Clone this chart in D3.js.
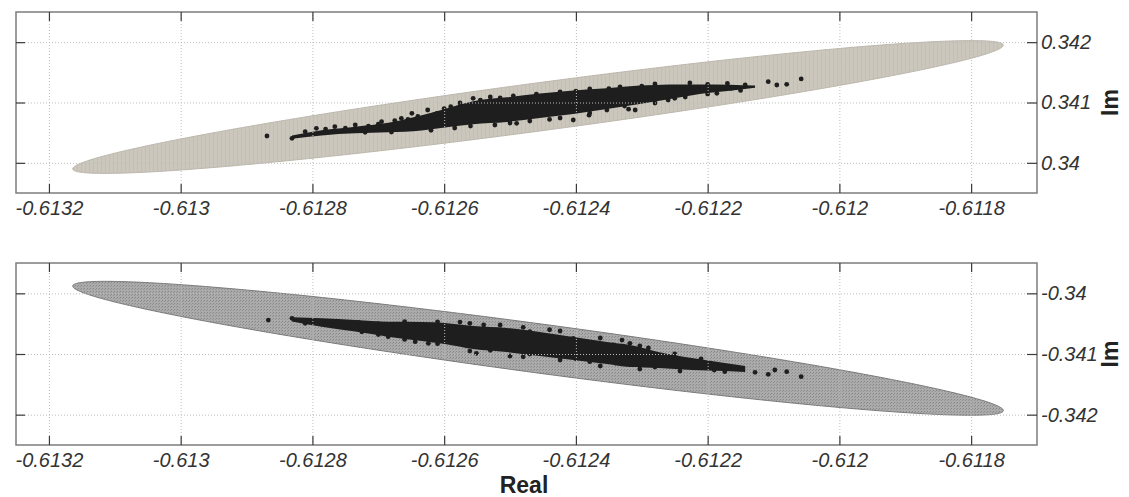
<!DOCTYPE html>
<html>
<head>
<meta charset="utf-8">
<script src="https://cdn.jsdelivr.net/npm/d3@7"></script>
<style>
  html, body { margin: 0; padding: 0; background: #fff; }
  svg { display: block; font-family: "Liberation Sans", Arial, sans-serif; }
  .ticklabel { font-style: italic; font-size: 20px; fill: #333; font-family: "Liberation Sans", Arial, sans-serif; }
</style>
</head>
<body>
<svg id="chart" width="1129" height="497"></svg>
<script>
// ---- axis ticks ----
const xTicks = [-0.6132, -0.613, -0.6128, -0.6126, -0.6124, -0.6122, -0.612, -0.6118];
const xTickLabels = ["-0.6132", "-0.613", "-0.6128", "-0.6126", "-0.6124", "-0.6122", "-0.612", "-0.6118"];
const topYTicks = [0.34, 0.341, 0.342];
const topYTickLabels = ["0.34", "0.341", "0.342"];
const botYTicks = [-0.342, -0.341, -0.34];
const botYTickLabels = ["-0.342", "-0.341", "-0.34"];

// ---- uncertainty ellipses: centre, end of major semi-axis, end of minor semi-axis ----
const topEllipseCenter = [-0.6124575, 0.3409254];
const topEllipseVertex = [-0.6117511, 0.341953];
const topEllipseCoVertex = [-0.6124624, 0.3413199];
const botEllipseCenter = [-0.6124575, -0.340906];
const botEllipseVertex = [-0.6117511, -0.3419346];
const botEllipseCoVertex = [-0.6124525, -0.3405055];

// ---- dense core of the sample cloud: [real, upper im, lower im] ----
const topCore = [
  [-0.612831, 0.340455, 0.340400],
  [-0.612786, 0.340540, 0.340455],
  [-0.612735, 0.340600, 0.340490],
  [-0.612685, 0.340665, 0.340505],
  [-0.612634, 0.340790, 0.340535],
  [-0.612599, 0.340892, 0.340585],
  [-0.612556, 0.341020, 0.340640],
  [-0.612505, 0.341085, 0.340677],
  [-0.612455, 0.341150, 0.340743],
  [-0.612404, 0.341200, 0.340809],
  [-0.612353, 0.341235, 0.340892],
  [-0.612303, 0.341280, 0.340975],
  [-0.612257, 0.341300, 0.341058],
  [-0.612212, 0.341300, 0.341141],
  [-0.612166, 0.341295, 0.341195],
  [-0.612128, 0.341280, 0.341245]
];
const botCore = [
  [-0.612831, -0.340395, -0.340465],
  [-0.612786, -0.340410, -0.340550],
  [-0.612735, -0.340440, -0.340630],
  [-0.612685, -0.340470, -0.340715],
  [-0.612634, -0.340473, -0.340786],
  [-0.612599, -0.340489, -0.340835],
  [-0.612556, -0.340539, -0.340918],
  [-0.612505, -0.340571, -0.340967],
  [-0.612455, -0.340637, -0.341033],
  [-0.612404, -0.340720, -0.341099],
  [-0.612353, -0.340802, -0.341165],
  [-0.612318, -0.340852, -0.341214],
  [-0.612275, -0.340967, -0.341231],
  [-0.612224, -0.341066, -0.341264],
  [-0.612174, -0.341148, -0.341280],
  [-0.612143, -0.341198, -0.341297]
];

// ---- individual samples around the core and in the tails: [real, im] ----
const topSamples = [
  [-0.612869, 0.340445], [-0.612831, 0.340407], [-0.612811, 0.340516], [-0.612794, 0.340572],
  [-0.612766, 0.340599], [-0.612735, 0.340627], [-0.612695, 0.340682], [-0.612665, 0.340738],
  [-0.612649, 0.340821], [-0.612625, 0.340876], [-0.612611, 0.340821], [-0.612556, 0.341070],
  [-0.612490, 0.340655], [-0.612561, 0.340848], [-0.612470, 0.341070], [-0.612439, 0.341096],
  [-0.612404, 0.340710], [-0.612353, 0.340876], [-0.612310, 0.340876], [-0.612250, 0.341070],
  [-0.612186, 0.341152], [-0.612164, 0.341235], [-0.612143, 0.341290], [-0.612108, 0.341345],
  [-0.612095, 0.341290], [-0.612080, 0.341302], [-0.612058, 0.341390],
  [-0.612576, 0.340992], [-0.612530, 0.341091], [-0.612424, 0.341174], [-0.612379, 0.341224],
  [-0.612333, 0.341257], [-0.612280, 0.341307], [-0.612227, 0.341323],
  [-0.612584, 0.340577], [-0.612523, 0.340627], [-0.612470, 0.340693], [-0.612424, 0.340743],
  [-0.612379, 0.340826], [-0.612326, 0.340942], [-0.612280, 0.340992], [-0.612234, 0.341091],
  [-0.612780, 0.340560], [-0.612750, 0.340575], [-0.612715, 0.340610], [-0.612700, 0.340640],
  [-0.612675, 0.340700], [-0.612655, 0.340720], [-0.612640, 0.340770], [-0.612615, 0.340800],
  [-0.612600, 0.340900], [-0.612590, 0.340930], [-0.612545, 0.341040], [-0.612515, 0.341075],
  [-0.612495, 0.341110], [-0.612460, 0.341140], [-0.612400, 0.341190], [-0.612350, 0.341230],
  [-0.612300, 0.341270], [-0.612200, 0.341300], [-0.612170, 0.341315],
  [-0.612720, 0.340505], [-0.612680, 0.340510], [-0.612620, 0.340540], [-0.612560, 0.340610],
  [-0.612500, 0.340660], [-0.612440, 0.340720], [-0.612380, 0.340790], [-0.612320, 0.340890],
  [-0.612260, 0.341040], [-0.612200, 0.341140], [-0.612150, 0.341200]
];
const botSamples = [
  [-0.612867, -0.340440], [-0.612831, -0.340412], [-0.612811, -0.340494], [-0.612786, -0.340506],
  [-0.612773, -0.340468], [-0.612756, -0.340522], [-0.612725, -0.340633], [-0.612685, -0.340715],
  [-0.612644, -0.340797], [-0.612624, -0.340824], [-0.612591, -0.340741], [-0.612551, -0.340989],
  [-0.612561, -0.340494], [-0.612470, -0.340633], [-0.612480, -0.341045], [-0.612404, -0.340741],
  [-0.612379, -0.341127], [-0.612343, -0.340852], [-0.612318, -0.340824], [-0.612275, -0.341017],
  [-0.612250, -0.341071], [-0.612224, -0.341181], [-0.612199, -0.341153], [-0.612174, -0.341292],
  [-0.612154, -0.341236], [-0.612128, -0.341302], [-0.612108, -0.341335], [-0.612098, -0.341264],
  [-0.612080, -0.341292], [-0.612058, -0.341374],
  [-0.612576, -0.340473], [-0.612515, -0.340522], [-0.612424, -0.340621], [-0.612363, -0.340736],
  [-0.612303, -0.340868], [-0.612561, -0.340951], [-0.612500, -0.341033], [-0.612424, -0.341099],
  [-0.612363, -0.341198], [-0.612303, -0.341247], [-0.612242, -0.341280],
  [-0.612760, -0.340470], [-0.612730, -0.340480], [-0.612700, -0.340500], [-0.612660, -0.340465],
  [-0.612610, -0.340470], [-0.612540, -0.340520], [-0.612480, -0.340560], [-0.612440, -0.340600],
  [-0.612330, -0.340770], [-0.612290, -0.340900], [-0.612250, -0.341000], [-0.612210, -0.341080],
  [-0.612700, -0.340680], [-0.612660, -0.340760], [-0.612610, -0.340830], [-0.612530, -0.340940],
  [-0.612470, -0.341000], [-0.612400, -0.341080], [-0.612340, -0.341150], [-0.612280, -0.341215],
  [-0.612190, -0.341265]
];

const svg = d3.select("#chart");
const left = 16, right = 1037;
const x = d3.scaleLinear().domain([-0.61325, -0.6117]).range([left, right]);

// stipple used inside the lower ellipse, faint streaks inside the upper one
const defs = svg.append("defs");
const pat = defs.append("pattern").attr("id", "stipple")
  .attr("width", 3).attr("height", 3).attr("patternUnits", "userSpaceOnUse");
pat.append("rect").attr("width", 3).attr("height", 3).attr("fill", "#ababab");
pat.append("rect").attr("x", 0).attr("y", 0).attr("width", 1).attr("height", 1).attr("fill", "#878787");
pat.append("rect").attr("x", 2).attr("y", 1).attr("width", 1).attr("height", 1).attr("fill", "#939393");

const patTop = defs.append("pattern").attr("id", "streak")
  .attr("width", 4).attr("height", 6).attr("patternUnits", "userSpaceOnUse");
patTop.append("rect").attr("width", 4).attr("height", 6).attr("fill", "#cbc7bc");
patTop.append("rect").attr("x", 1).attr("width", 1).attr("height", 6).attr("fill", "#c3bfb4");

function drawPanel(cfg) {
  const y = d3.scaleLinear().domain(cfg.yDomain).range([cfg.bottom, cfg.top]);
  const g = svg.append("g");
  const h = cfg.bottom - cfg.top;

  // ellipse outline from its conjugate semi-axes
  const c = cfg.center, a = cfg.vertex, b = cfg.coVertex;
  const ring = d3.range(0, 360, 1).map(deg => {
    const t = deg * Math.PI / 180;
    return [
      c[0] + Math.cos(t) * (a[0] - c[0]) + Math.sin(t) * (b[0] - c[0]),
      c[1] + Math.cos(t) * (a[1] - c[1]) + Math.sin(t) * (b[1] - c[1])
    ];
  });
  g.append("path")
    .datum(ring)
    .attr("d", d3.line().x(d => x(d[0])).y(d => y(d[1])).curve(d3.curveLinearClosed))
    .attr("fill", cfg.fill)
    .attr("stroke", cfg.edge)
    .attr("stroke-width", 1);

  // dense core of the samples
  g.append("path")
    .datum(cfg.core)
    .attr("d", d3.area().x(d => x(d[0])).y0(d => y(d[1])).y1(d => y(d[2])).curve(d3.curveMonotoneX))
    .attr("fill", "#1e1e1e");

  g.selectAll("circle.s").data(cfg.samples).join("circle")
    .attr("class", "s")
    .attr("cx", d => x(d[0])).attr("cy", d => y(d[1]))
    .attr("r", 2.4).attr("fill", "#1e1e1e");

  // dotted grid
  g.append("g")
    .attr("transform", `translate(0,${cfg.bottom})`)
    .call(d3.axisBottom(x).tickValues(xTicks).tickSize(-h).tickFormat(""))
    .call(s => s.select(".domain").remove())
    .call(s => s.selectAll("line").attr("stroke", "#bdbdbd").attr("stroke-dasharray", "1,2").attr("stroke-width", 1));
  g.append("g")
    .attr("transform", `translate(${left},0)`)
    .call(d3.axisLeft(y).tickValues(cfg.yTicks).tickSize(-(right - left)).tickFormat(""))
    .call(s => s.select(".domain").remove())
    .call(s => s.selectAll("line").attr("stroke", "#bdbdbd").attr("stroke-dasharray", "1,2").attr("stroke-width", 1));

  // box
  g.append("rect")
    .attr("x", left).attr("y", cfg.top)
    .attr("width", right - left).attr("height", h)
    .attr("fill", "none").attr("stroke", "#7c7c7c").attr("stroke-width", 1.5);

  // inward ticks on all four sides, labels bottom and right
  const xb = g.append("g")
    .attr("transform", `translate(0,${cfg.bottom})`)
    .call(d3.axisBottom(x).tickValues(xTicks).tickSizeInner(-9).tickSizeOuter(0).tickPadding(8)
      .tickFormat((d, i) => xTickLabels[i]));
  xb.attr("font-family", null).attr("font-size", null);
  xb.select(".domain").remove();
  xb.selectAll("line").attr("stroke", "#3a3a3a").attr("stroke-width", 1.2);
  xb.selectAll("text").attr("class", "ticklabel").attr("fill", null);

  const xt = g.append("g")
    .attr("transform", `translate(0,${cfg.top})`)
    .call(d3.axisTop(x).tickValues(xTicks).tickSizeInner(-9).tickSizeOuter(0).tickFormat(""));
  xt.select(".domain").remove();
  xt.selectAll("line").attr("stroke", "#3a3a3a").attr("stroke-width", 1.2);

  const yl = g.append("g")
    .attr("transform", `translate(${left},0)`)
    .call(d3.axisLeft(y).tickValues(cfg.yTicks).tickSizeInner(-9).tickSizeOuter(0).tickFormat(""));
  yl.select(".domain").remove();
  yl.selectAll("line").attr("stroke", "#3a3a3a").attr("stroke-width", 1.2);

  const yr = g.append("g")
    .attr("transform", `translate(${right},0)`)
    .call(d3.axisRight(y).tickValues(cfg.yTicks).tickSizeInner(-10).tickSizeOuter(0).tickPadding(4)
      .tickFormat((d, i) => cfg.yTickLabels[i]));
  yr.attr("font-family", null).attr("font-size", null);
  yr.select(".domain").remove();
  yr.selectAll("line").attr("stroke", "#3a3a3a").attr("stroke-width", 1.2);
  yr.selectAll("text").attr("class", "ticklabel").attr("fill", null);

  // Im label
  const midY = y(cfg.yTicks[1]);
  g.append("text")
    .attr("transform", `translate(1118,${midY}) rotate(-90)`)
    .attr("text-anchor", "middle")
    .attr("font-size", 23).attr("font-weight", "bold").attr("fill", "#222")
    .text("Im");
}

drawPanel({
  top: 12, bottom: 193, yDomain: [0.3395, 0.3425],
  yTicks: topYTicks, yTickLabels: topYTickLabels,
  center: topEllipseCenter, vertex: topEllipseVertex, coVertex: topEllipseCoVertex,
  fill: "url(#streak)", edge: "#bdb8ad",
  core: topCore, samples: topSamples
});

drawPanel({
  top: 263, bottom: 445, yDomain: [-0.3425, -0.3395],
  yTicks: botYTicks, yTickLabels: botYTickLabels,
  center: botEllipseCenter, vertex: botEllipseVertex, coVertex: botEllipseCoVertex,
  fill: "url(#stipple)", edge: "#7a7a7a",
  core: botCore, samples: botSamples
});

svg.append("text")
  .attr("x", 524).attr("y", 493)
  .attr("text-anchor", "middle")
  .attr("font-size", 23).attr("font-weight", "bold").attr("fill", "#222")
  .text("Real");
</script>
</body>
</html>
